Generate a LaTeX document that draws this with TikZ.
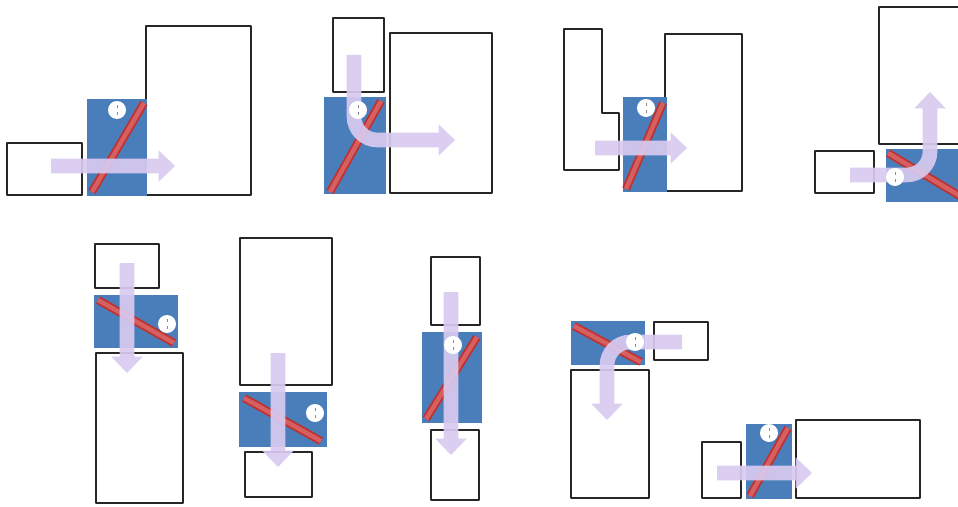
\documentclass[tikz,border=0pt]{standalone}
\usetikzlibrary{arrows.meta}
\definecolor{doorblue}{RGB}{74,126,187}
\definecolor{swingred}{RGB}{190,50,52}
\definecolor{swinglight}{RGB}{214,96,96}
\definecolor{flowlilac}{RGB}{216,202,240}
\begin{document}
\begin{tikzpicture}[x=0.03cm, y=-0.03cm,
    room/.style={draw=black!85, line width=2.5pt, fill=white, line join=round},
    door/.style={fill=doorblue},
    swing/.style={draw=swingred, line width=1.6pt, double=swinglight, double distance=3.8pt},
    flow/.style={draw=flowlilac, line width=12.5pt, rounded corners=20pt, -{Triangle[width=26pt,length=14pt]}},
    knob/.pic={
        \fill[white] (0,0) circle [radius=9];
        \draw[black!45, line width=0.8pt] (0,-5) -- (0,-2) (0,2) -- (0,5);
    }]
    \useasboundingbox (0,0) rectangle (958,506);
    \clip (0,0) rectangle (958,506);
    \draw [room] (7,143) rectangle (82,195);
    \draw [room] (146,26) rectangle (251,195);
    \fill [door] (87,99) rectangle (147,196);
    \draw [swing] (92,192) -- (144,103);
    \begin{scope}[transparency group, opacity=0.92]
        \draw [flow] (51,166) -- (175,166);
    \end{scope}
    \pic at (117,110) {knob};
    \draw [room] (333,18) rectangle (384,92);
    \draw [room] (390,33) rectangle (492,193);
    \fill [door] (324,97) rectangle (386,194);
    \draw [swing] (330,192) -- (381,101);
    \begin{scope}[transparency group, opacity=0.92]
        \draw [flow] (354,55) -- (354,140) -- (455,140);
    \end{scope}
    \pic at (358,110) {knob};
    \draw [room] (564,29) -- (602,29) -- (602,113) -- (619,113) -- (619,170) -- (564,170) -- cycle;
    \draw [room] (665,34) rectangle (742,191);
    \fill [door] (623,97) rectangle (667,192);
    \draw [swing] (626,189) -- (663,103);
    \begin{scope}[transparency group, opacity=0.92]
        \draw [flow] (595,148) -- (687,148);
    \end{scope}
    \pic at (646,108) {knob};
    \draw [room] (879,7) rectangle (975,144);
    \draw [room] (815,151) rectangle (874,193);
    \fill [door] (886,149) rectangle (975,202);
    \draw [swing] (888,153) -- (975,205);
    \begin{scope}[transparency group, opacity=0.92]
        \draw [flow] (850,175) -- (930,175) -- (930,92);
    \end{scope}
    \pic at (895,177) {knob};
    \draw [room] (95,244) rectangle (159,288);
    \draw [room] (96,353) rectangle (183,503);
    \fill [door] (94,295) rectangle (178,348);
    \draw [swing] (98,300) -- (174,343);
    \begin{scope}[transparency group, opacity=0.92]
        \draw [flow] (127,263) -- (127,373);
    \end{scope}
    \pic at (167,324) {knob};
    \draw [room] (240,238) rectangle (332,385);
    \draw [room] (245,452) rectangle (312,497);
    \fill [door] (239,392) rectangle (327,447);
    \draw [swing] (244,398) -- (321,441);
    \begin{scope}[transparency group, opacity=0.92]
        \draw [flow] (278,353) -- (278,467);
    \end{scope}
    \pic at (315,413) {knob};
    \draw [room] (431,257) rectangle (480,325);
    \draw [room] (431,430) rectangle (479,500);
    \fill [door] (422,332) rectangle (482,423);
    \draw [swing] (426,419) -- (477,337);
    \begin{scope}[transparency group, opacity=0.92]
        \draw [flow] (451,292) -- (451,455);
    \end{scope}
    \pic at (453,345) {knob};
    \draw [room] (654,322) rectangle (708,360);
    \draw [room] (571,370) rectangle (649,498);
    \fill [door] (571,321) rectangle (645,365);
    \draw [swing] (574,326) -- (641,362);
    \begin{scope}[transparency group, opacity=0.92]
        \draw [flow] (682,342) -- (607,342) -- (607,420);
    \end{scope}
    \pic at (635,342) {knob};
    \draw [room] (702,442) rectangle (741,498);
    \draw [room] (796,420) rectangle (920,498);
    \fill [door] (746,424) rectangle (792,499);
    \draw [swing] (750,496) -- (788,428);
    \begin{scope}[transparency group, opacity=0.92]
        \draw [flow] (717,473) -- (812,473);
    \end{scope}
    \pic at (769,433) {knob};
\end{tikzpicture}
\end{document}
